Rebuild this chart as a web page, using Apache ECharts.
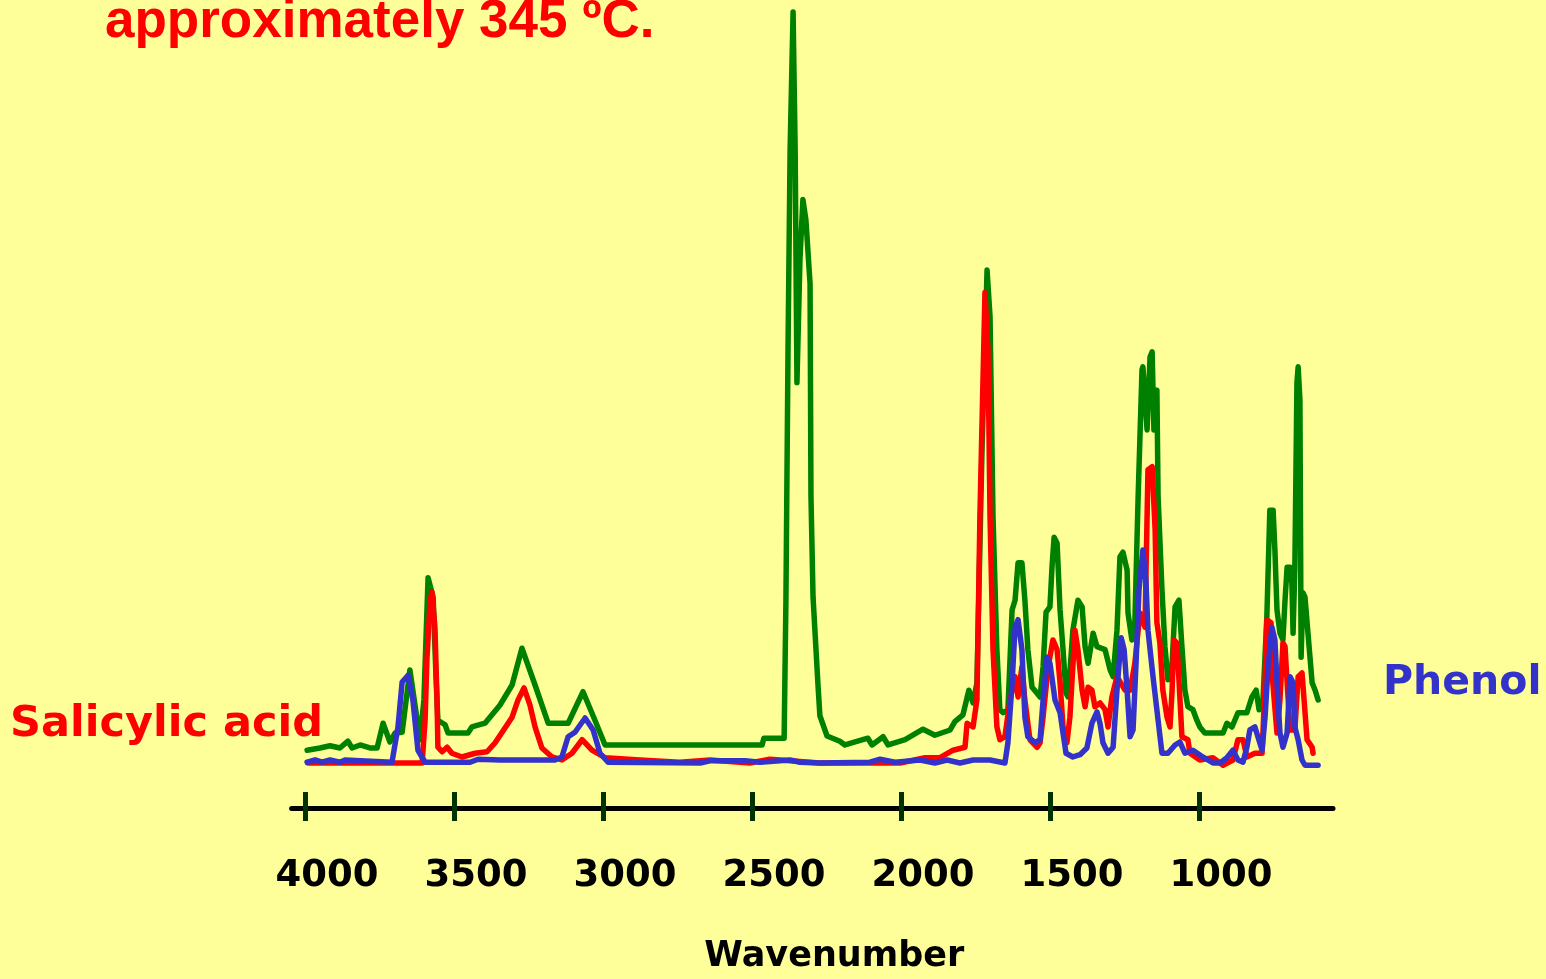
<!DOCTYPE html>
<html>
<head>
<meta charset="utf-8">
<title>IR spectra</title>
<script src="https://cdn.jsdelivr.net/npm/echarts@6/dist/echarts.min.js"></script>
<style>
  html, body { margin: 0; padding: 0; background: #FFFF99; }
  #chart { width: 1546px; height: 979px; }
</style>
</head>
<body>
<div id="chart"></div>
<script>
// 刻度
var tickValues = [4000, 3500, 3000, 2500, 2000, 1500, 1000];

// 加热后的样品 (绿色) [波数, 吸光度]
var heatedSample = [
    [3993, 1.7], [3950, 2.0], [3916, 2.3], [3883, 2.0], [3856, 2.9], [3842, 2.0], [3815, 2.4],
    [3782, 2.0], [3758, 2.0], [3738, 5.3], [3715, 2.8], [3698, 4.0], [3674, 4.1], [3648, 12.4],
    [3614, 3.1], [3601, 8.4], [3587, 24.7], [3570, 22.1], [3560, 11.1], [3554, 5.7], [3530, 5.1],
    [3520, 4.0], [3453, 4.0], [3440, 4.8], [3396, 5.3], [3346, 7.7], [3305, 10.4], [3272, 15.3],
    [3228, 10.4], [3184, 5.3], [3117, 5.3], [3067, 9.5], [3027, 5.7], [2993, 2.4], [2674, 2.4],
    [2466, 2.4], [2460, 3.3], [2392, 3.3], [2386, 21.7], [2379, 55.1], [2372, 81.7], [2362, 100.1],
    [2355, 81.7], [2349, 50.7], [2339, 67.1], [2329, 75.1], [2319, 72.4], [2305, 63.9], [2302, 35.6],
    [2295, 22.1], [2278, 10.1], [2272, 6.3], [2248, 3.6], [2205, 2.9], [2188, 2.4], [2111, 3.3],
    [2097, 2.4], [2060, 3.5], [2043, 2.4], [1986, 3.1], [1926, 4.5], [1886, 3.7], [1835, 4.4],
    [1819, 5.5], [1792, 6.4], [1772, 9.7], [1758, 8.0], [1745, 10.7], [1728, 41.7], [1711, 65.7],
    [1701, 59.5], [1691, 32.8], [1678, 15.1], [1668, 7.1], [1657, 6.7], [1641, 7.1], [1627, 20.4],
    [1617, 21.7], [1607, 26.7], [1594, 26.7], [1584, 21.7], [1574, 15.1], [1560, 10.1], [1543, 9.3],
    [1533, 8.8], [1523, 12.8], [1513, 20.1], [1500, 20.8], [1493, 26.1], [1486, 30.1], [1476, 29.3],
    [1466, 20.4], [1456, 15.1], [1446, 9.3], [1439, 8.8], [1423, 17.7], [1406, 21.7], [1392, 20.8],
    [1382, 15.5], [1372, 13.3], [1355, 17.3], [1342, 15.5], [1315, 15.1], [1298, 12.4], [1288, 11.5],
    [1275, 17.7], [1265, 27.5], [1255, 28.1], [1241, 25.7], [1238, 20.0], [1225, 16.4], [1215, 18.7],
    [1204, 35.5], [1191, 52.4], [1188, 52.8], [1174, 44.4], [1164, 54.1], [1157, 54.8], [1151, 44.4],
    [1141, 49.7], [1137, 35.5], [1124, 23.1], [1114, 15.5], [1104, 11.1], [1090, 13.3], [1080, 20.8],
    [1067, 21.7], [1057, 15.5], [1047, 9.7], [1037, 7.5], [1020, 7.1], [1007, 5.7], [997, 4.8],
    [980, 4.0], [919, 4.0], [906, 5.3], [889, 4.8], [869, 6.7], [839, 6.7], [822, 8.8], [808, 9.7],
    [798, 7.1], [785, 8.4], [772, 19.5], [762, 33.7], [751, 33.7], [745, 28.4], [738, 20.4],
    [728, 17.3], [718, 16.4], [711, 21.7], [704, 26.1], [694, 26.1], [688, 24.0], [684, 17.3],
    [678, 26.1], [671, 50.7], [667, 52.8], [661, 48.4], [657, 14.1], [651, 22.7], [644, 22.1],
    [634, 17.3], [620, 10.7], [610, 9.7], [600, 8.4]
];

// 水杨酸 (红色)
var salicylicAcid = [
    [3990, 0], [3607, 0], [3597, 5.7], [3591, 13.7], [3580, 21.7], [3574, 22.8], [3564, 18.1],
    [3557, 8.4], [3554, 2.1], [3540, 1.5], [3523, 2.1], [3507, 1.3], [3473, 0.8], [3429, 1.3],
    [3389, 1.5], [3362, 2.7], [3305, 6.1], [3285, 8.4], [3265, 10.0], [3245, 7.7], [3228, 4.8],
    [3205, 2.0], [3171, 0.8], [3138, 0.4], [3104, 1.3], [3070, 3.1], [3037, 1.7], [2993, 0.7],
    [2876, 0.4], [2742, 0.1], [2641, 0.4], [2507, 0], [2440, 0.5], [2372, 0.3], [2272, 0],
    [2003, 0], [1919, 0.7], [1869, 0.7], [1825, 1.7], [1785, 2.1], [1778, 5.3], [1758, 4.8],
    [1745, 8.4], [1735, 32.8], [1718, 62.7], [1708, 55.1], [1701, 32.8], [1691, 15.1], [1678, 4.8],
    [1668, 3.1], [1651, 3.5], [1634, 8.4], [1617, 11.5], [1607, 8.8], [1594, 12.8], [1584, 8.4],
    [1567, 3.1], [1543, 2.1], [1533, 2.7], [1523, 6.1], [1506, 12.8], [1490, 16.4], [1476, 15.1],
    [1466, 10.7], [1456, 4.8], [1443, 2.7], [1433, 6.1], [1416, 17.7], [1406, 15.1], [1392, 9.7],
    [1382, 7.5], [1372, 10.1], [1359, 9.7], [1349, 7.5], [1332, 8.0], [1315, 7.1], [1305, 4.8],
    [1292, 8.8], [1275, 11.5], [1248, 9.7], [1231, 9.7], [1215, 13.3], [1198, 20.0], [1181, 18.1],
    [1171, 39.1], [1157, 39.5], [1147, 31.1], [1141, 18.7], [1131, 16.0], [1121, 9.7], [1107, 6.1],
    [1097, 4.8], [1090, 9.7], [1084, 16.4], [1074, 16.0], [1070, 13.3], [1057, 3.5], [1037, 3.1],
    [1030, 1.3], [997, 0.4], [953, 0.7], [919, -0.3], [886, 0.4], [869, 3.1], [852, 3.1], [839, 0.8],
    [812, 1.3], [788, 1.3], [778, 10.7], [772, 19.1], [758, 18.7], [752, 10.7], [738, 4.0], [728, 8.4],
    [718, 16.0], [711, 15.5], [704, 10.7], [694, 4.4], [678, 4.4], [667, 11.5], [654, 12.0],
    [647, 8.4], [637, 3.1], [620, 2.1], [617, 1.3]
];

// 苯酚 (蓝色)
var phenol = [
    [3993, 0.1], [3966, 0.4], [3943, 0.1], [3916, 0.4], [3883, 0.1], [3866, 0.4], [3708, 0.1],
    [3688, 4.8], [3674, 10.8], [3654, 11.7], [3638, 8.4], [3621, 1.7], [3597, 0.1], [3446, 0.1],
    [3419, 0.5], [3346, 0.4], [3161, 0.4], [3138, 0.8], [3117, 3.5], [3094, 4.1], [3060, 6.0],
    [3033, 4.4], [3010, 1.3], [2983, 0.1], [2674, 0], [2641, 0.3], [2523, 0.3], [2473, 0.1],
    [2372, 0.4], [2339, 0.1], [2272, 0], [2104, 0.1], [2070, 0.5], [2020, 0.1], [1936, 0.4],
    [1886, 0], [1845, 0.4], [1802, 0], [1758, 0.4], [1701, 0.4], [1651, 0], [1641, 2.7],
    [1627, 10.7], [1617, 18.1], [1607, 19.1], [1594, 15.1], [1584, 6.1], [1574, 3.5], [1550, 2.7],
    [1533, 3.1], [1523, 8.4], [1510, 14.1], [1500, 13.3], [1483, 8.4], [1466, 6.7], [1456, 4.0],
    [1446, 1.3], [1423, 0.8], [1399, 1.1], [1376, 2.0], [1359, 5.3], [1342, 6.8], [1332, 5.3],
    [1322, 2.7], [1305, 1.3], [1288, 2.1], [1275, 9.7], [1261, 16.7], [1251, 15.1], [1241, 9.7],
    [1231, 3.5], [1221, 4.4], [1211, 13.3], [1201, 23.1], [1188, 28.4], [1178, 24.4], [1171, 17.7],
    [1154, 11.5], [1137, 5.7], [1124, 1.3], [1104, 1.3], [1080, 2.4], [1064, 2.8], [1047, 1.3],
    [1020, 1.7], [987, 0.8], [953, 0], [929, 0], [906, 0.7], [886, 1.7], [869, 0.4], [852, 0.1],
    [839, 2.1], [829, 4.4], [812, 4.8], [802, 3.5], [788, 1.7], [778, 6.1], [768, 12.8], [755, 18.1],
    [745, 16.4], [738, 10.7], [728, 4.0], [718, 2.1], [704, 4.0], [694, 11.5], [684, 10.7],
    [678, 4.8], [667, 3.1], [654, 0.4], [644, -0.3], [600, -0.3]
];

var chart = echarts.init(document.getElementById('chart'));

var lineStyleOf = function (color) {
    return { color: color, width: 5.5, join: 'round', cap: 'round' };
};

var option = {
    backgroundColor: '#FFFF99',
    animation: false,
    grid: [
        { left: 291.6, right: 213, top: 0, bottom: 171 },
        // 刻度文字相对刻度线向右偏移
        { left: 313.6, right: 191, top: 0, bottom: 171 }
    ],
    xAxis: [{
        type: 'value',
        inverse: true,
        min: 550,
        max: 4045,
        position: 'bottom',
        splitLine: { show: false },
        axisLine: { show: true, onZero: false, lineStyle: { color: '#000000', width: 5 } },
        axisTick: { show: true, customValues: tickValues, length: 13, lineStyle: { color: '#003300', width: 5 } },
        axisLabel: { show: false }
    }, {
        // 轴线上方的刻度
        type: 'value',
        inverse: true,
        min: 550,
        max: 4045,
        position: 'bottom',
        splitLine: { show: false },
        axisLine: { show: false, onZero: false },
        axisLabel: { show: false },
        axisTick: { show: true, inside: true, customValues: tickValues, length: 16, lineStyle: { color: '#003300', width: 5 } }
    }, {
        // 刻度文字和轴名称
        type: 'value',
        gridIndex: 1,
        inverse: true,
        min: 550,
        max: 4045,
        position: 'bottom',
        splitLine: { show: false },
        axisLine: { show: false, onZero: false },
        axisTick: { show: false },
        axisLabel: {
            customValues: tickValues,
            hideOverlap: false,
            formatter: function (v) { return String(v); },
            margin: 49,
            color: '#000000',
            fontFamily: 'DejaVu Sans',
            fontWeight: 'bold',
            fontSize: 37,
            lineHeight: 38
        },
        name: 'Wavenumber',
        nameLocation: 'middle',
        nameGap: 131,
        nameTextStyle: {
            color: '#000000',
            fontFamily: 'DejaVu Sans',
            fontWeight: 'bold',
            fontSize: 35,
            lineHeight: 35
        }
    }],
    yAxis: [{
        type: 'value',
        min: -6,
        max: 101.7,
        show: false
    }, {
        type: 'value',
        gridIndex: 1,
        min: -6,
        max: 101.7,
        show: false
    }],
    graphic: [{
        type: 'text',
        x: 105,
        y: 22,
        style: {
            text: 'approximately 345 ºC.',
            fill: '#FF0000',
            font: 'bold 53px "Liberation Sans", Arial, sans-serif',
            verticalAlign: 'middle'
        }
    }, {
        type: 'text',
        x: 10,
        y: 725,
        style: {
            text: 'Salicylic acid',
            fill: '#FF0000',
            font: 'bold 43px "DejaVu Sans", sans-serif',
            verticalAlign: 'middle'
        }
    }, {
        type: 'text',
        x: 1383,
        y: 683,
        style: {
            text: 'Phenol',
            fill: '#3333CC',
            font: 'bold 41px "DejaVu Sans", sans-serif',
            verticalAlign: 'middle'
        }
    }],
    series: [{
        name: 'Heated sample',
        type: 'line',
        showSymbol: false,
        data: heatedSample,
        lineStyle: lineStyleOf('#008000'),
        z: 1
    }, {
        name: 'Salicylic acid',
        type: 'line',
        showSymbol: false,
        data: salicylicAcid,
        lineStyle: lineStyleOf('#FF0000'),
        z: 2
    }, {
        name: 'Phenol',
        type: 'line',
        showSymbol: false,
        data: phenol,
        lineStyle: lineStyleOf('#3333CC'),
        z: 3
    }]
};

chart.setOption(option);
</script>
</body>
</html>
